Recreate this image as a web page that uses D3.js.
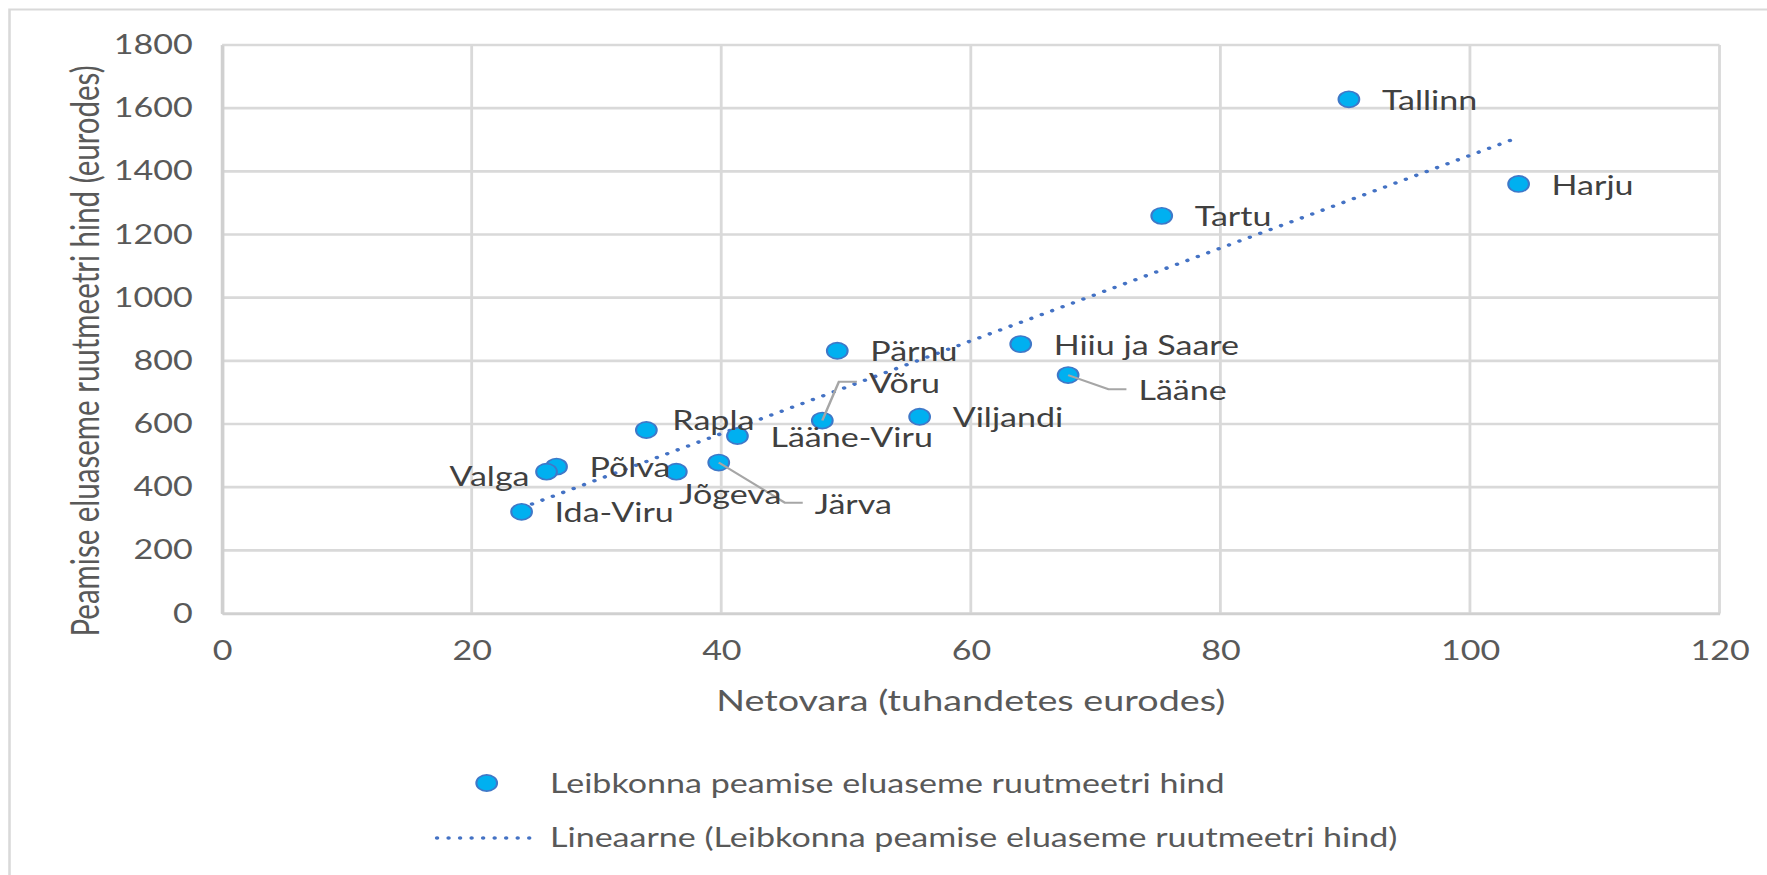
<!DOCTYPE html>
<html lang="et">
<head>
    <meta charset="UTF-8">
    <script src="https://cdn.jsdelivr.net/npm/d3@7/dist/d3.min.js"></script>
    <title>Netovara ja ruutmeetri hind</title>
    <style>
        body { margin: 0; background: #fff; }
        text { font-family: Lato, "Open Sans", sans-serif; }
    </style>
</head>
<body>
<script>

    // andmed
    let regions = ["Tallinn", "Harju", "Tartu", "Hiiu ja Saare", "Lääne", "Pärnu", "Võru", "Viljandi",
        "Lääne-Viru", "Rapla", "Järva", "Jõgeva", "Põlva", "Valga", "Ida-Viru"]
    let netWealth = [90.3, 103.9, 75.3, 64.0, 67.8, 49.3, 48.1, 55.9, 41.3, 34.0, 39.8, 36.4, 26.8, 26.0, 24.0]
    let pricePerM2 = [1628, 1360, 1259, 853, 755, 832, 611, 623, 562, 581, 478, 449, 465, 449, 322]

    let xTicks = [0, 20, 40, 60, 80, 100, 120]
    let yTicks = [0, 200, 400, 600, 800, 1000, 1200, 1400, 1600, 1800]

    let xTitle = "Netovara (tuhandetes eurodes)"
    let yTitle = "Peamise eluaseme ruutmeetri hind (eurodes)"
    let seriesName = "Leibkonna peamise eluaseme ruutmeetri hind"
    let trendName = "Lineaarne (Leibkonna peamise eluaseme ruutmeetri hind)"

    // the original picture is stretched sideways, draw narrow and stretch the svg
    let SX = 1.28,
        width = 1767,
        height = 875,
        W = width / SX

    let x = d3.scaleLinear()
            .domain([0, 120])
            .range([222.1 / SX, 1719.5 / SX]),
        y = d3.scaleLinear()
            .domain([0, 1800])
            .range([613.5, 45])

    // sildid, mis on käsitsi nihutatud (ekraani px)
    let nudge = {
        "Rapla": {dx: 26, dy: -10},
        "Valga": {dx: -17, dy: 5, anchor: "end"},
        "Jõgeva": {dx: 3, dy: 23},
        "Järva": {dx: 96, dy: 41.6, leader: true},
        "Võru": {dx: 46.6, dy: -37.4, leader: true},
        "Lääne": {dx: 70.3, dy: 15.7, leader: true}
    }

    let data = regions.map((name, i) => ({name: name, x: netWealth[i], y: pricePerM2[i]}))

    let svg = d3.select("body")
        .append("svg")
        .attr("width", width)
        .attr("height", height)
        .attr("viewBox", "0 0 " + W + " " + height)
        .attr("preserveAspectRatio", "none")
        .style("display", "block")

    // chart border
    svg.append("rect")
        .attr("x", 9.5 / SX)
        .attr("y", 9.5)
        .attr("width", W + 20)
        .attr("height", height + 20)
        .attr("fill", "none")
        .attr("stroke", "#d9d9d9")
        .attr("stroke-width", 2)

    // gridlines
    svg.append("g").selectAll("line")
        .data(xTicks)
        .enter()
        .append("line")
        .attr("x1", d => x(d)).attr("x2", d => x(d))
        .attr("y1", y(1800)).attr("y2", y(0))
        .attr("stroke", "#d9d9d9")
        .attr("stroke-width", 2.2)

    svg.append("g").selectAll("line")
        .data(yTicks)
        .enter()
        .append("line")
        .attr("x1", x(0)).attr("x2", x(120))
        .attr("y1", d => y(d)).attr("y2", d => y(d))
        .attr("stroke", "#d9d9d9")
        .attr("stroke-width", 2.6)

    // axes
    let xAxis = svg.append("g")
        .attr("transform", "translate(0," + y(0) + ")")
        .call(d3.axisBottom(x).tickValues(xTicks).tickSize(0).tickPadding(28).tickFormat(d3.format("d")))
    let yAxis = svg.append("g")
        .attr("transform", "translate(" + x(0) + ",0)")
        .call(d3.axisLeft(y).tickValues(yTicks).tickSize(0).tickPadding(23).tickFormat(d3.format("d")))

    ;[xAxis, yAxis].forEach(function (g) {
        g.select(".domain").attr("stroke", "#d0d0d0").attr("stroke-width", 2.6)
        g.selectAll("text")
            .attr("fill", "#595959")
            .style("font-size", "26.6px")
            .style("font-family", "Lato, sans-serif")
    })

    // axis titles
    svg.append("text")
        .attr("x", (x(0) + x(120)) / 2)
        .attr("y", 700)
        .attr("dy", "0.36em")
        .attr("text-anchor", "middle")
        .attr("fill", "#595959")
        .style("font-size", "29.5px")
        .text(xTitle)

    svg.append("text")
        .attr("transform", "translate(" + (85 / SX) + ",351) rotate(-90)")
        .attr("dy", "0.36em")
        .attr("text-anchor", "middle")
        .attr("fill", "#595959")
        .style("font-size", "29.5px")
        .text(yTitle)

    // linear trend, least squares
    let mx = d3.mean(data, d => d.x),
        my = d3.mean(data, d => d.y),
        slope = d3.sum(data, d => (d.x - mx) * (d.y - my)) / d3.sum(data, d => (d.x - mx) * (d.x - mx)),
        icpt = my - slope * mx,
        ext = d3.extent(data, d => d.x)

    let line = d3.line()
        .x(d => x(d))
        .y(d => y(icpt + slope * d))

    svg.append("path")
        .attr("d", line(ext))
        .attr("fill", "none")
        .attr("stroke", "#4472c4")
        .attr("stroke-width", 3.4)
        .attr("stroke-linecap", "round")
        .attr("stroke-dasharray", "0.1 8.9")

    // markers
    svg.append("g").selectAll("circle")
        .data(data)
        .enter()
        .append("circle")
        .attr("cx", d => x(d.x))
        .attr("cy", d => y(d.y))
        .attr("r", 8.1)
        .attr("fill", "#00b0f0")
        .attr("stroke", "#3f78c8")
        .attr("stroke-width", 1.6)

    // labels
    function labelPos(d) {
        let n = nudge[d.name] || {dx: 33, dy: 1}
        return {x: x(d.x) + n.dx / SX, y: y(d.y) + n.dy, anchor: n.anchor || "start", leader: n.leader}
    }

    svg.append("g").selectAll("path")
        .data(data.filter(d => labelPos(d).leader))
        .enter()
        .append("path")
        .attr("d", function (d) {
            let p = labelPos(d)
            return "M" + x(d.x) + "," + y(d.y) +
                "L" + (p.x - 30 / SX) + "," + (p.y - 1.5) +
                "L" + (p.x - 12 / SX) + "," + (p.y - 1.5)
        })
        .attr("fill", "none")
        .attr("stroke", "#a6a6a6")
        .attr("stroke-width", 2)

    svg.append("g").selectAll("text")
        .data(data)
        .enter()
        .append("text")
        .attr("x", d => labelPos(d).x)
        .attr("y", d => labelPos(d).y)
        .attr("dy", "0.36em")
        .attr("text-anchor", d => labelPos(d).anchor)
        .attr("fill", "#404040")
        .style("font-size", "26.6px")
        .text(d => d.name)

    // legend
    let legend = svg.append("g")

    legend.append("circle")
        .attr("cx", 486.7 / SX)
        .attr("cy", 783)
        .attr("r", 8.1)
        .attr("fill", "#00b0f0")
        .attr("stroke", "#3f78c8")
        .attr("stroke-width", 1.6)

    legend.append("line")
        .attr("x1", 437 / SX).attr("x2", 531 / SX)
        .attr("y1", 838).attr("y2", 838)
        .attr("stroke", "#4472c4")
        .attr("stroke-width", 3.4)
        .attr("stroke-linecap", "round")
        .attr("stroke-dasharray", "0.1 8.9")

    legend.selectAll("text")
        .data([seriesName, trendName])
        .enter()
        .append("text")
        .attr("x", 550 / SX)
        .attr("y", (d, i) => i ? 837 : 783)
        .attr("dy", "0.36em")
        .attr("fill", "#595959")
        .style("font-size", "26.6px")
        .text(d => d)

</script>
</body>
</html>
